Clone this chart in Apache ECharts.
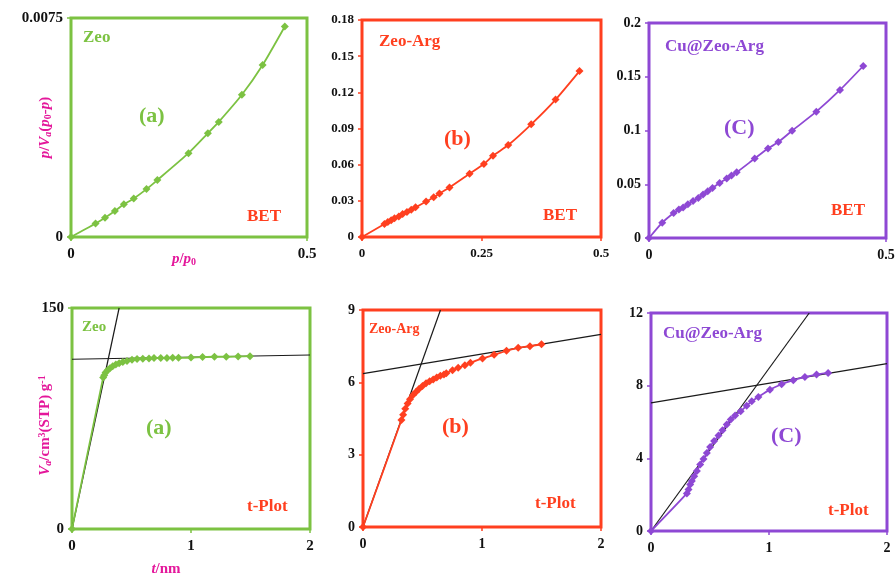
<!DOCTYPE html>
<html>
<head>
<meta charset="utf-8">
<script src="https://cdn.jsdelivr.net/npm/echarts@6/dist/echarts.min.js"></script>
<style>
  html,body{margin:0;padding:0;background:#fff;}
  #main{width:896px;height:581px;}
</style>
</head>
<body>
<div id="main"></div>
<script>
// colours of the three samples
var GREEN = '#7cc242', RED = '#ff3f1f', PURPLE = '#8e48d4', MAGENTA = '#e4179b'
var SERIF = 'Liberation Serif'

// ---- BET plots: x = p/p0, y = p/Va(p0-p)
var zeoBetX = [0, 0.052, 0.072, 0.093, 0.112, 0.133, 0.160, 0.183, 0.249, 0.290, 0.313, 0.362, 0.406, 0.453]
var zeoBetY = [0, 0.00046, 0.00066, 0.00089, 0.00112, 0.00132, 0.00164, 0.00195, 0.00287, 0.00355, 0.00394, 0.00487, 0.00589, 0.00721]

var argBetX = [0, 0.047, 0.054, 0.061, 0.068, 0.077, 0.085, 0.094, 0.103, 0.112, 0.134, 0.150, 0.162, 0.183, 0.225, 0.255, 0.274, 0.306, 0.354, 0.405, 0.455]
var argBetY = [0, 0.0108, 0.0125, 0.0138, 0.0155, 0.0171, 0.0191, 0.0208, 0.0227, 0.0246, 0.0294, 0.0330, 0.0360, 0.0410, 0.0524, 0.0605, 0.0674, 0.0763, 0.0935, 0.114, 0.1376]

var cuBetX = [0, 0.028, 0.052, 0.063, 0.072, 0.082, 0.093, 0.104, 0.114, 0.124, 0.134, 0.149, 0.164, 0.174, 0.185, 0.223, 0.251, 0.273, 0.302, 0.353, 0.403, 0.452]
var cuBetY = [0, 0.0143, 0.0233, 0.0264, 0.0283, 0.0313, 0.0344, 0.0372, 0.0404, 0.0434, 0.0465, 0.0512, 0.0553, 0.0581, 0.0611, 0.0739, 0.0832, 0.0893, 0.0998, 0.1175, 0.1377, 0.160]

// ---- t-plots: x = t/nm, y = Va
var zeoTX = [0, 0.262, 0.271, 0.282, 0.299, 0.319, 0.342, 0.368, 0.396, 0.427, 0.462, 0.504, 0.547, 0.595, 0.647, 0.689, 0.746, 0.798, 0.846, 0.895, 1.0, 1.097, 1.197, 1.296, 1.396, 1.496]
var zeoTY = [0, 102.8, 104.4, 106.2, 107.8, 109.1, 110.5, 111.6, 112.5, 113.4, 114.1, 114.8, 115.3, 115.5, 115.7, 116.0, 116.0, 116.0, 116.2, 116.2, 116.4, 116.7, 116.9, 116.9, 117.1, 117.3]

var argTX = [0, 0.323, 0.337, 0.355, 0.375, 0.395, 0.42, 0.445, 0.47, 0.5, 0.53, 0.56, 0.59, 0.62, 0.65, 0.68, 0.70, 0.752, 0.80, 0.856, 0.903, 1.004, 1.102, 1.206, 1.304, 1.403, 1.5]
var argTY = [0, 4.44, 4.66, 4.9, 5.12, 5.3, 5.47, 5.6, 5.72, 5.85, 5.96, 6.05, 6.12, 6.2, 6.27, 6.33, 6.38, 6.5, 6.6, 6.71, 6.81, 6.99, 7.14, 7.31, 7.43, 7.5, 7.58]

var cuTX = [0, 0.304, 0.318, 0.332, 0.346, 0.366, 0.389, 0.417, 0.445, 0.473, 0.501, 0.535, 0.572, 0.606, 0.642, 0.676, 0.713, 0.76, 0.811, 0.854, 0.91, 1.008, 1.107, 1.206, 1.304, 1.403, 1.501]
var cuTY = [0, 2.07, 2.29, 2.56, 2.75, 3.02, 3.3, 3.66, 3.97, 4.3, 4.63, 4.95, 5.26, 5.55, 5.86, 6.14, 6.36, 6.59, 6.9, 7.14, 7.38, 7.78, 8.08, 8.3, 8.48, 8.61, 8.7]

// fitted straight lines of the t-plots (end points)
var zeoFitX1 = [0, 0.396], zeoFitY1 = [0, 150]
var zeoFitX2 = [0, 2], zeoFitY2 = [115.2, 118.1]
var argFitX1 = [0, 0.651], argFitY1 = [0, 9]
var argFitX2 = [0, 2], argFitY2 = [6.36, 7.99]
var cuFitX1 = [0, 1.341], cuFitY1 = [0, 12]
var cuFitX2 = [0, 2], cuFitY2 = [7.05, 9.21]

// axis ranges / ticks
var betXMax = [0.5, 0.5, 0.5], betXStep = [0.5, 0.25, 0.5]
var betYMax = [0.0075, 0.18, 0.2], betYStep = [0.0075, 0.03, 0.05]
var tXMax = [2, 2, 2], tXStep = [1, 1, 1]
var tYMax = [150, 9, 12], tYStep = [150, 3, 4]

function zip(xs, ys) {
  var out = []
  for (var i = 0; i < xs.length; i++) out.push([xs[i], ys[i]])
  return out
}

var panels = [
  {box: [71, 18, 236, 219], color: GREEN, xMax: betXMax[0], xStep: betXStep[0], yMax: betYMax[0], yStep: betYStep[0], data: zip(zeoBetX, zeoBetY), lblSize: 15},
  {box: [362, 20, 239, 217], color: RED, xMax: betXMax[1], xStep: betXStep[1], yMax: betYMax[1], yStep: betYStep[1], data: zip(argBetX, argBetY), lblSize: 13},
  {box: [649, 23, 237, 215], color: PURPLE, xMax: betXMax[2], xStep: betXStep[2], yMax: betYMax[2], yStep: betYStep[2], data: zip(cuBetX, cuBetY), lblSize: 14},
  {box: [72, 308, 238, 221], color: GREEN, xMax: tXMax[0], xStep: tXStep[0], yMax: tYMax[0], yStep: tYStep[0], data: zip(zeoTX, zeoTY), lblSize: 15,
    fits: [zip(zeoFitX1, zeoFitY1), zip(zeoFitX2, zeoFitY2)]},
  {box: [363, 310, 238, 217], color: RED, xMax: tXMax[1], xStep: tXStep[1], yMax: tYMax[1], yStep: tYStep[1], data: zip(argTX, argTY), lblSize: 14,
    fits: [zip(argFitX1, argFitY1), zip(argFitX2, argFitY2)]},
  {box: [651, 313, 236, 218], color: PURPLE, xMax: tXMax[2], xStep: tXStep[2], yMax: tYMax[2], yStep: tYStep[2], data: zip(cuTX, cuTY), lblSize: 14,
    fits: [zip(cuFitX1, cuFitY1), zip(cuFitX2, cuFitY2)]}
]

var grid = [], xAxis = [], yAxis = [], series = []

var nameRich = {
  n: {color: MAGENTA, fontFamily: SERIF, fontWeight: 'bold', fontSize: 15},
  i: {color: MAGENTA, fontFamily: SERIF, fontWeight: 'bold', fontStyle: 'italic', fontSize: 15},
  sub: {color: MAGENTA, fontFamily: SERIF, fontWeight: 'bold', fontStyle: 'italic', fontSize: 10, verticalAlign: 'bottom', padding: [6, 0, 0, 0]},
  sub0: {color: MAGENTA, fontFamily: SERIF, fontWeight: 'bold', fontSize: 10, verticalAlign: 'bottom', padding: [6, 0, 0, 0]},
  sup: {color: MAGENTA, fontFamily: SERIF, fontWeight: 'bold', fontSize: 10, verticalAlign: 'top', padding: [0, 0, 6, 0]}
}

panels.forEach(function (p, k) {
  grid.push({left: p.box[0], top: p.box[1], width: p.box[2], height: p.box[3],
    outerBoundsMode: 'none', containLabel: false,
    show: true, borderColor: p.color, borderWidth: 3, backgroundColor: 'transparent'})
  var lbl = {color: '#111', fontFamily: SERIF, fontWeight: 'bold', fontSize: p.lblSize}
  var x = {type: 'value', gridIndex: k, min: 0, max: p.xMax, interval: p.xStep,
    axisLine: {show: false}, splitLine: {show: false},
    axisTick: {show: true, length: 4, lineStyle: {color: p.color, width: 1.5}},
    axisLabel: Object.assign({margin: 10}, lbl)}
  var y = {type: 'value', gridIndex: k, min: 0, max: p.yMax, interval: p.yStep,
    axisLine: {show: false}, splitLine: {show: false},
    axisTick: {show: true, length: 4, lineStyle: {color: p.color, width: 1.5}},
    axisLabel: Object.assign({margin: 8}, lbl)}
  if (k === 0) {
    x.name = '{i|p}{n|/}{i|p}{sub0|0}'
    x.nameLocation = 'middle'; x.nameGap = 14; x.nameMoveOverlap = false
    x.nameTextStyle = {rich: nameRich, padding: [0, 10, 0, 0]}
    y.name = '{i|p}{n|/}{i|V}{sub|a}{n|(}{i|p}{sub0|0}{i|-p}{n|)}'
    y.nameLocation = 'middle'; y.nameGap = 18; y.nameMoveOverlap = false
    y.nameTextStyle = {rich: nameRich}
  }
  if (k === 3) {
    x.name = '{i|t}{n|/nm}'
    x.nameLocation = 'middle'; x.nameGap = 33; x.nameMoveOverlap = false
    x.nameTextStyle = {rich: nameRich, padding: [0, 50, 0, 0]}
    y.name = '{i|V}{sub|a}{n|/cm}{sup|3}{n|(STP) g}{sup|-1}'
    y.nameLocation = 'middle'; y.nameGap = 19; y.nameMoveOverlap = false
    y.nameTextStyle = {rich: nameRich, padding: [0, 14, 0, 0]}
  }
  xAxis.push(x)
  yAxis.push(y)

  // black fit lines go under the data
  ;(p.fits || []).forEach(function (f) {
    series.push({type: 'line', xAxisIndex: k, yAxisIndex: k, data: f, symbol: 'none',
      lineStyle: {color: '#1a1a1a', width: 1.2}, silent: true, z: 1})
  })
  series.push({type: 'line', xAxisIndex: k, yAxisIndex: k, data: p.data,
    symbol: 'diamond', symbolSize: 8, smooth: 0.2, showSymbol: true,
    itemStyle: {color: p.color}, lineStyle: {color: p.color, width: 1.8}, z: 3})
})

// labels written inside each panel
function txt(left, top, text, color, size) {
  return {type: 'text', left: left, top: top, z: 10,
    style: {text: text, fill: color, fontFamily: SERIF, fontWeight: 'bold', fontSize: size}}
}
var graphic = [
  txt(83, 29, 'Zeo', GREEN, 17), txt(139, 105, '(a)', GREEN, 22), txt(247, 208, 'BET', RED, 17),
  txt(379, 33, 'Zeo-Arg', RED, 17), txt(444, 128, '(b)', RED, 22), txt(543, 207, 'BET', RED, 17),
  txt(665, 38, 'Cu@Zeo-Arg', PURPLE, 17), txt(724, 117, '(C)', PURPLE, 22), txt(831, 202, 'BET', RED, 17),
  txt(82, 320, 'Zeo', GREEN, 15), txt(146, 417, '(a)', GREEN, 22), txt(247, 498, 't-Plot', RED, 17),
  txt(369, 322, 'Zeo-Arg', RED, 14), txt(442, 416, '(b)', RED, 22), txt(535, 495, 't-Plot', RED, 17),
  txt(663, 325, 'Cu@Zeo-Arg', PURPLE, 17), txt(771, 425, '(C)', PURPLE, 22), txt(828, 502, 't-Plot', RED, 17)
]

var chart = echarts.init(document.getElementById('main'))
chart.setOption({
  animation: false,
  backgroundColor: '#fff',
  grid: grid,
  xAxis: xAxis,
  yAxis: yAxis,
  series: series,
  graphic: graphic
})
</script>
</body>
</html>
